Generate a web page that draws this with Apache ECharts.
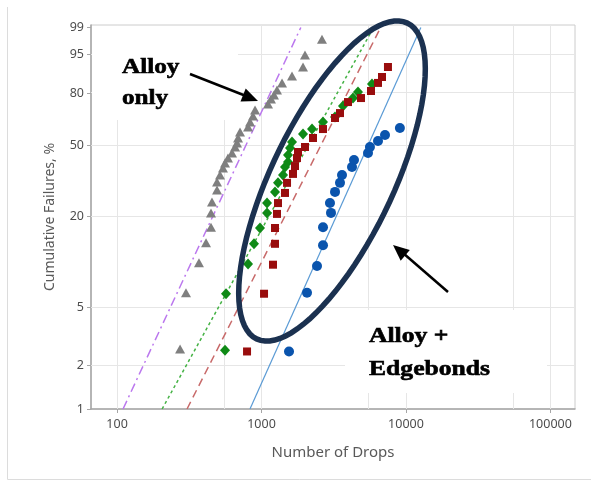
<!DOCTYPE html>
<html>
<head>
<meta charset="utf-8">
<script src="https://cdn.jsdelivr.net/npm/echarts@6/dist/echarts.min.js"></script>
<style>
html, body { margin: 0; padding: 0; background: #fff; }
#main { width: 591px; height: 481px; }
</style>
</head>
<body>
<div id="main"></div>
<script>
// tick / grid values
var yTickPct = [1, 2, 5, 20, 50, 80, 95, 99];
var yGridPct = [2, 5, 20, 50, 80, 95];
var xGridDrops = [100, 550, 1000, 5500, 10000, 55000, 100000];

// Alloy only (grey triangles)
var alloyDrops = [273, 300, 369, 413, 447, 447, 454, 492, 492, 516, 541, 559, 586, 625, 656, 677, 688, 710, 807, 833, 873, 902, 1109, 1163, 1220, 1280, 1387, 1626, 1938, 2000, 2622];
var alloyPct = [2.6, 6.3, 10.0, 13.5, 17.0, 20.9, 24.4, 28.7, 32.0, 35.0, 38.3, 40.7, 43.2, 45.9, 49.1, 51.3, 54.2, 57.7, 60.6, 63.5, 67.1, 70.6, 74.0, 76.8, 78.9, 81.5, 84.9, 87.9, 91.3, 94.8, 97.8];

// Alloy + edgebonds (green diamonds)
var greenDrops = [559, 568, 807, 887, 976, 1092, 1092, 1240, 1301, 1409, 1454, 1526, 1526, 1575, 1626, 1938, 2237, 2664, 3227, 3665, 4298, 4655, 5818];
var greenPct = [2.55, 6.2, 9.8, 13.3, 16.8, 20.9, 24.0, 28.0, 31.6, 35.0, 38.7, 41.2, 44.8, 48.6, 51.9, 56.5, 59.4, 63.5, 66.5, 72.9, 77.3, 80.5, 84.4];

// Alloy + edgebonds (red squares)
var redDrops = [794, 1041, 1201, 1240, 1240, 1280, 1301, 1454, 1502, 1652, 1705, 1761, 1789, 2000, 2272, 2664, 3227, 3495, 3969, 4882, 5727, 6401, 6823, 7506];
var redPct = [2.5, 6.2, 9.7, 13.3, 16.8, 20.6, 24.0, 27.6, 31.6, 35.5, 39.2, 43.2, 46.4, 49.1, 54.2, 59.4, 65.9, 68.8, 75.1, 77.3, 81.0, 84.9, 87.5, 91.3];

// Alloy + edgebonds (blue circles)
var blueDrops = [1550, 2065, 2422, 2665, 2665, 3027, 2978, 3228, 3494, 3608, 4230, 4368, 5460, 5633, 6402, 7161, 9078];
var bluePct = [2.5, 6.3, 9.5, 13.0, 17.0, 20.9, 24.0, 28.0, 31.6, 35.0, 38.7, 42.2, 45.9, 49.1, 52.5, 55.9, 60.0];

// fitted Weibull lines, [drops, %] at 1% and 99%
var alloyFit = [[110, 1], [1871, 99]];
var greenFit = [[205, 1], [5970, 99]];
var redFit = [[305, 1], [6680, 99]];
var blueFit = [[832, 1], [12680, 99]];

// weibull probability scale
function weib(p) { return Math.log(-Math.log(1 - p / 100)); }
function pts(drops, pct) {
    return drops.map(function (d, i) { return [d, weib(pct[i])]; });
}
function fit(arr) {
    return arr.map(function (p) { return [p[0], weib(p[1])]; });
}

var yTickVals = yTickPct.map(weib);

var gridLines = [];
xGridDrops.forEach(function (v) { gridLines.push({ xAxis: v }); });
yGridPct.forEach(function (p) { gridLines.push({ yAxis: weib(p) }); });

// ellipse outline round the edgebond data
var ell = [];
var cx = 332, cy = 181, ea = 175, eb = 61, th = 64.5 * Math.PI / 180;
for (var k = 0; k < 90; k++) {
    var t = k / 90 * Math.PI * 2;
    ell.push([
        cx + ea * Math.cos(t) * Math.cos(th) + eb * Math.sin(t) * Math.sin(th),
        cy - ea * Math.cos(t) * Math.sin(th) + eb * Math.sin(t) * Math.cos(th)
    ]);
}

var myChart = echarts.init(document.getElementById('main'));
myChart.setOption({
    animation: false,
    grid: {
        left: 91, right: 16, top: 25, bottom: 72,
        show: true, borderColor: '#cccccc', borderWidth: 1,
        outerBoundsMode: 'none'
    },
    xAxis: {
        type: 'log',
        logBase: 10,
        min: 66,
        max: 148000,
        name: 'Number of Drops',
        nameLocation: 'middle',
        nameGap: 36,
        nameTextStyle: { color: '#595959', fontSize: 15, fontFamily: 'Noto Sans' },
        axisLine: { onZero: false, lineStyle: { color: '#a6a6a6', width: 1.5 } },
        axisTick: { show: true, length: 4, lineStyle: { color: '#a6a6a6' } },
        axisLabel: {
            showMinLabel: false, showMaxLabel: false,
            color: '#4d4d4d', fontSize: 12.5, fontFamily: 'Noto Sans', margin: 9,
            formatter: function (v) { return String(Math.round(v)); }
        },
        splitLine: { show: false }
    },
    yAxis: {
        type: 'value',
        min: weib(1),
        max: weib(99) + 0.04,
        name: 'Cumulative Failures, %',
        nameLocation: 'middle',
        nameGap: 34,
        nameTextStyle: { color: '#595959', fontSize: 14, fontFamily: 'Noto Sans' },
        axisLine: { show: true, onZero: false, lineStyle: { color: '#a6a6a6', width: 1.5 } },
        axisTick: { show: true, length: 4, customValues: yTickVals, lineStyle: { color: '#a6a6a6' } },
        axisLabel: {
            customValues: yTickVals,
            color: '#4d4d4d', fontSize: 12.5, fontFamily: 'Noto Sans', margin: 7,
            formatter: function (v) { return String(Math.round(100 * (1 - Math.exp(-Math.exp(v))))); }
        },
        splitLine: { show: false }
    },
    series: [
        {
            type: 'line', data: [], z: 1, silent: true,
            markLine: {
                z: 1, silent: true, symbol: 'none', label: { show: false },
                lineStyle: { color: '#e6e6e6', width: 1, type: 'solid' },
                data: gridLines
            }
        },
        { name: 'alloy fit', type: 'line', data: fit(alloyFit), symbol: 'none', z: 3,
          lineStyle: { color: '#bb78ee', width: 1.5, type: [9, 4, 2, 4] } },
        { name: 'green fit', type: 'line', data: fit(greenFit), symbol: 'none', z: 3,
          lineStyle: { color: '#44b244', width: 1.5, type: [3, 3] } },
        { name: 'red fit', type: 'line', data: fit(redFit), symbol: 'none', z: 3,
          lineStyle: { color: '#c86a6a', width: 1.5, type: [8, 5] } },
        { name: 'blue fit', type: 'line', data: fit(blueFit), symbol: 'none', z: 3,
          lineStyle: { color: '#5b9bd5', width: 1.2 } },
        { name: 'Alloy only', type: 'scatter', data: pts(alloyDrops, alloyPct), z: 4,
          symbol: 'triangle', symbolSize: [10, 9], itemStyle: { color: '#7f7f7f', opacity: 1 } },
        { name: 'green', type: 'scatter', data: pts(greenDrops, greenPct), z: 4,
          symbol: 'diamond', symbolSize: [10, 11], itemStyle: { color: '#0f8a16', opacity: 1 } },
        { name: 'red', type: 'scatter', data: pts(redDrops, redPct), z: 4,
          symbol: 'rect', symbolSize: 8, itemStyle: { color: '#990d0d', opacity: 1 } },
        { name: 'blue', type: 'scatter', data: pts(blueDrops, bluePct), z: 4,
          symbol: 'circle', symbolSize: 10, itemStyle: { color: '#0a54ad', opacity: 1 } }
    ],
    graphic: [
        { type: 'polyline', z: 0, shape: { points: [[7.5, 7], [7.5, 479.5], [591, 479.5]] },
          style: { stroke: '#dcdcdc', lineWidth: 1, fill: null } },
        // white boxes behind the annotation text
        { type: 'rect', z: 2, shape: { x: 92, y: 26, width: 146, height: 94 },
          style: { fill: '#fff' } },
        { type: 'rect', z: 2, shape: { x: 345, y: 310, width: 202, height: 83 },
          style: { fill: '#fff' } },
        { type: 'polygon', z: 10, shape: { points: ell },
          style: { stroke: '#1b3150', lineWidth: 5.5, fill: null } },
        { type: 'line', z: 10, shape: { x1: 190, y1: 74, x2: 246, y2: 96 },
          style: { stroke: '#000', lineWidth: 2.5 } },
        { type: 'polygon', z: 10, shape: { points: [[258, 101], [245.7, 88.6], [240.5, 101.6]] },
          style: { fill: '#000' } },
        { type: 'line', z: 10, shape: { x1: 448, y1: 292, x2: 403, y2: 253 },
          style: { stroke: '#000', lineWidth: 2.5 } },
        { type: 'polygon', z: 10, shape: { points: [[393, 245], [409.8, 250.1], [400.7, 260.7]] },
          style: { fill: '#000' } },
        { type: 'text', z: 10, x: 122, y: 52, scaleX: 1.2,
          style: { text: 'Alloy\nonly', fill: '#000', stroke: '#000', lineWidth: 0.6,
                   font: 'bold 21px "Liberation Serif"', lineHeight: 31 } },
        { type: 'text', z: 10, x: 369, y: 320, scaleX: 1.22,
          style: { text: 'Alloy +\nEdgebonds', fill: '#000', stroke: '#000', lineWidth: 0.6,
                   font: 'bold 21px "Liberation Serif"', lineHeight: 33 } }
    ]
});
</script>
</body>
</html>
